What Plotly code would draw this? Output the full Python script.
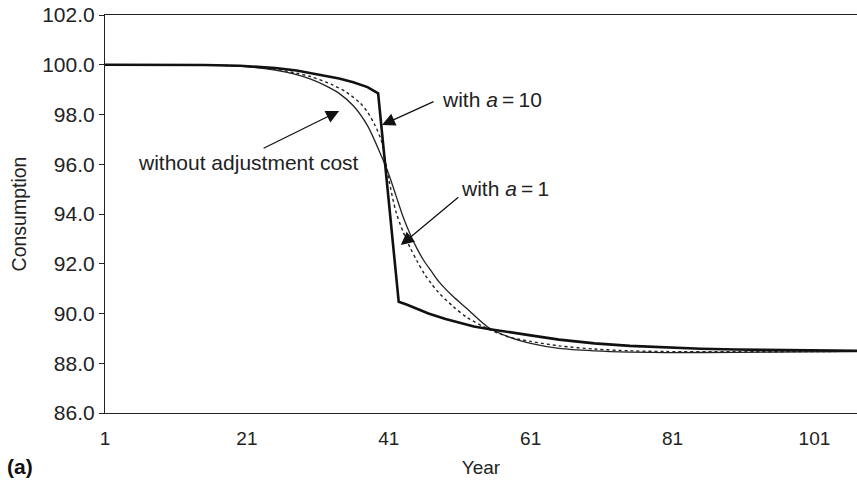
import plotly.graph_objects as go

# ---- data ----
years_a10 = [1, 10, 15, 20, 25, 28, 31, 34, 36, 38, 39.5, 42.4, 43.5, 45, 46.6, 49, 51.3,
             53, 55.5, 58, 61, 65, 70, 75, 80, 85, 90, 95, 100, 107]
cons_a10 = [100.0, 100.0, 99.99, 99.96, 99.87, 99.77, 99.62, 99.45, 99.3, 99.1, 98.85, 90.47, 90.36, 90.2, 90.0, 89.78, 89.6,
            89.48, 89.36, 89.24, 89.12, 88.95, 88.8, 88.7, 88.63, 88.58, 88.55, 88.53, 88.52, 88.5]

years_noadj = [1, 10, 15, 20, 25, 28, 30, 32, 34, 36, 38, 40, 41, 42, 43, 44, 45, 46, 47, 48,
               50, 52, 55, 58, 61, 65, 70, 75, 80, 90, 100, 107]
cons_noadj = [100.0, 100.0, 99.99, 99.95, 99.78, 99.6, 99.42, 99.17, 98.85, 98.35, 97.55, 96.3, 95.6, 94.75, 93.9, 93.2, 92.6, 92.1, 91.7, 91.3,
              90.7, 90.2, 89.45, 89.05, 88.8, 88.6, 88.5, 88.45, 88.43, 88.44, 88.46, 88.47]

years_a1 = [1, 10, 15, 20, 25, 28, 30, 33, 35, 37, 38, 39, 40, 41, 42, 43, 44, 45, 46, 47, 48,
            50, 52, 55, 58, 61, 65, 70, 75, 80, 90, 100, 107]
cons_a1 = [100.0, 100.0, 99.99, 99.95, 99.82, 99.66, 99.52, 99.2, 98.9, 98.45, 98.1, 97.6, 96.9, 95.4, 94.1, 93.3, 92.65, 92.1, 91.6, 91.2, 90.85,
           90.3, 89.85, 89.38, 89.05, 88.88, 88.7, 88.57, 88.5, 88.47, 88.46, 88.47, 88.48]

x_tick_vals = [1, 21, 41, 61, 81, 101]
y_tick_vals = [86, 88, 90, 92, 94, 96, 98, 100, 102]

FONT = "Liberation Sans, Arial, sans-serif"

fig = go.Figure()
fig.add_trace(go.Scatter(x=years_noadj, y=cons_noadj, mode="lines",
                         line=dict(color="#222", width=1.3, shape="spline", smoothing=0.8),
                         name="without adjustment cost"))
fig.add_trace(go.Scatter(x=years_a1, y=cons_a1, mode="lines",
                         line=dict(color="#222", width=1.4, dash="dot", shape="spline", smoothing=0.8),
                         name="with a = 1"))
fig.add_trace(go.Scatter(x=years_a10, y=cons_a10, mode="lines",
                         line=dict(color="#111", width=2.6),
                         name="with a = 10"))

ann_font = dict(family=FONT, size=21, color="#222")
arrow_kw = dict(showarrow=True, arrowhead=2, arrowsize=2.0, arrowwidth=1.3, arrowcolor="#111",
                xref="x", yref="y", axref="pixel", ayref="pixel", text="")

# plot area in reference pixels: left 105, right 857, top 15, bottom 413
PL, PW, PB, PH = 105, 752, 413, 398

annotations = [
    dict(x=34.0, y=98.14, ax=-77, ay=38, **arrow_kw),
    dict(x=40.05, y=97.58, ax=53, ay=-24, **arrow_kw),
    dict(x=42.7, y=92.75, ax=59, ay=-49, **arrow_kw),
    dict(text="without adjustment cost", xref="paper", yref="paper",
         x=(248 - PL) / PW, y=(PB - 163) / PH, xanchor="center", yanchor="middle",
         showarrow=False, font=ann_font),
    dict(text="with <i>a</i>\u2009=\u200910", xref="paper", yref="paper",
         x=(440 - PL) / PW, y=(PB - 99) / PH, xanchor="left", yanchor="middle",
         showarrow=False, font=ann_font),
    dict(text="with <i>a</i>\u2009=\u20091", xref="paper", yref="paper",
         x=(459 - PL) / PW, y=(PB - 188) / PH, xanchor="left", yanchor="middle",
         showarrow=False, font=ann_font),
    dict(text="<b>(a)</b>", xref="paper", yref="paper",
         x=(5 - PL) / PW, y=(PB - 466) / PH, xanchor="left", yanchor="middle",
         showarrow=False, font=dict(family=FONT, size=21, color="#111")),
]

fig.update_layout(
    width=857, height=486,
    margin=dict(l=PL, r=0, t=15, b=73, autoexpand=False),
    paper_bgcolor="white", plot_bgcolor="white",
    showlegend=False,
    font=dict(family=FONT, size=20, color="#222"),
    annotations=annotations,
)
fig.update_xaxes(
    range=[1, 107], tickvals=x_tick_vals, ticktext=[str(v) for v in x_tick_vals],
    showgrid=False, zeroline=False, showline=True, linecolor="#222", linewidth=1.2, mirror=True,
    ticks="", ticklabelstandoff=8, tickfont=dict(family=FONT, size=19, color="#222"),
    title=dict(text="Year", standoff=12, font=dict(family=FONT, size=19, color="#222")),
    automargin=False,
)
fig.update_yaxes(
    range=[86, 102], tickvals=y_tick_vals, tickformat=".1f",
    showgrid=False, zeroline=False, showline=True, linecolor="#222", linewidth=1.2, mirror=True,
    ticks="outside", ticklen=5, tickcolor="#222", tickfont=dict(family=FONT, size=21, color="#222"),
    title=dict(text="Consumption", standoff=10, font=dict(family=FONT, size=19.5, color="#222")),
    automargin=False,
)

fig.write_html("out.html",
               config={"displayModeBar": False},
               post_script="document.body.style.margin='0px';document.body.style.overflow='hidden';")
